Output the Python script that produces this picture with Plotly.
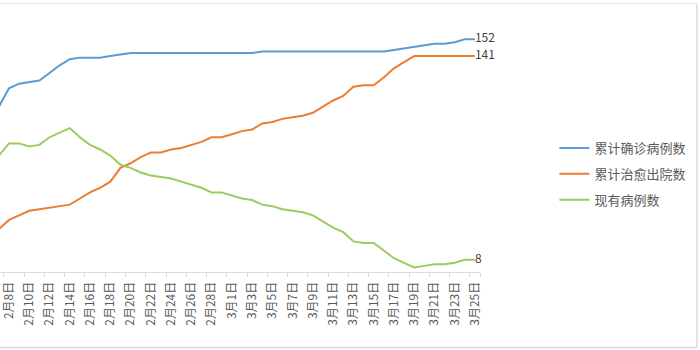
import plotly.graph_objects as go

# 日期（2020年，2月有29天）
dates = [f"2月{d}日" for d in range(7, 30)] + [f"3月{d}日" for d in range(1, 26)]

# 累计确诊病例数
confirmed = [108, 120, 123, 124, 125, 130, 135, 139, 140, 140, 140, 141, 142, 143,
             143, 143, 143, 143, 143, 143, 143, 143, 143,
             143, 143, 143,
             144, 144, 144, 144, 144, 144, 144, 144, 144, 144, 144, 144, 144,
             145, 146, 147, 148, 149, 149, 150, 152, 152]

# 累计治愈出院数
cured = [28, 34, 37, 40, 41, 42, 43, 44, 48, 52, 55, 59, 68, 71, 75, 78, 78, 80, 81, 83, 85, 88, 88,
         90, 92, 93, 97, 98, 100, 101, 102, 104, 108, 112, 115, 121, 122, 122, 127, 133, 137,
         141, 141, 141, 141, 141, 141, 141]

# 现有病例数
current = [76, 84, 84, 82, 83, 88, 91, 94, 88, 83, 80, 76, 70, 68, 65, 63, 62, 61, 59, 57, 55, 52, 52,
           50, 48, 47, 44, 43, 41, 40, 39, 37, 33, 29, 26, 20, 19, 19, 14, 9, 6, 3, 4, 5, 5, 6, 8, 8]

series_names = ["累计确诊病例数", "累计治愈出院数", "现有病例数"]
colors = ["#5B9BD5", "#ED7D31", "#9ACD5E"]

# 每隔一天标注一次日期，从2月8日开始
tick_labels = dates[1::2]

FONT = "Microsoft YaHei, Noto Sans CJK SC, sans-serif"

fig = go.Figure()
for i, (name, vals, col) in enumerate(zip(series_names, [confirmed, cured, current], colors)):
    end_text = [""] * (len(vals) - 1) + [str(vals[-1])]
    fig.add_trace(go.Scatter(
        x=dates, y=vals, name=name, mode="lines+text",
        line=dict(color=col, width=2),
        text=end_text, textposition="middle right",
        textfont=dict(size=12, color="#404040", family=FONT),
        cliponaxis=False, legendgroup=f"g{i}",
    ))

fig.update_layout(
    width=700, height=350,
    margin=dict(l=0, r=220, t=27, b=78),
    paper_bgcolor="white", plot_bgcolor="white",
    font=dict(family=FONT, color="#595959"),
    showlegend=True,
    legend=dict(
        x=1.155, xanchor="left", y=0.40, yanchor="middle",
        font=dict(size=13, color="#595959"),
        traceorder="grouped", tracegroupgap=6,
        bgcolor="rgba(0,0,0,0)",
    ),
    xaxis=dict(
        type="category", categoryorder="array", categoryarray=dates,
        range=[0.111, 47.5],
        tickmode="array", tickvals=tick_labels, ticktext=tick_labels,
        tickson="boundaries", ticks="outside", ticklen=4, tickcolor="#d9d9d9",
        tickangle=-90, tickfont=dict(size=12, color="#595959"),
        ticklabelstandoff=4,
        showline=True, linecolor="#d9d9d9", linewidth=1,
        showgrid=False, zeroline=False,
    ),
    yaxis=dict(range=[0, 160], visible=False, showgrid=False, zeroline=False),
    shapes=[
        dict(type="line", xref="paper", yref="paper", x0=-0.01, x1=1.452, y0=-0.308, y1=-0.308,
             line=dict(color="#d9d9d9", width=1.5)),
        dict(type="line", xref="paper", yref="paper", x0=1.452, x1=1.452, y0=-0.308, y1=1.095,
             line=dict(color="#d9d9d9", width=1.5)),
        dict(type="line", xref="paper", yref="paper", x0=-0.01, x1=1.452, y0=1.095, y1=1.095,
             line=dict(color="#e6e6e6", width=1)),
    ],
)

fig.write_html("out.html")
